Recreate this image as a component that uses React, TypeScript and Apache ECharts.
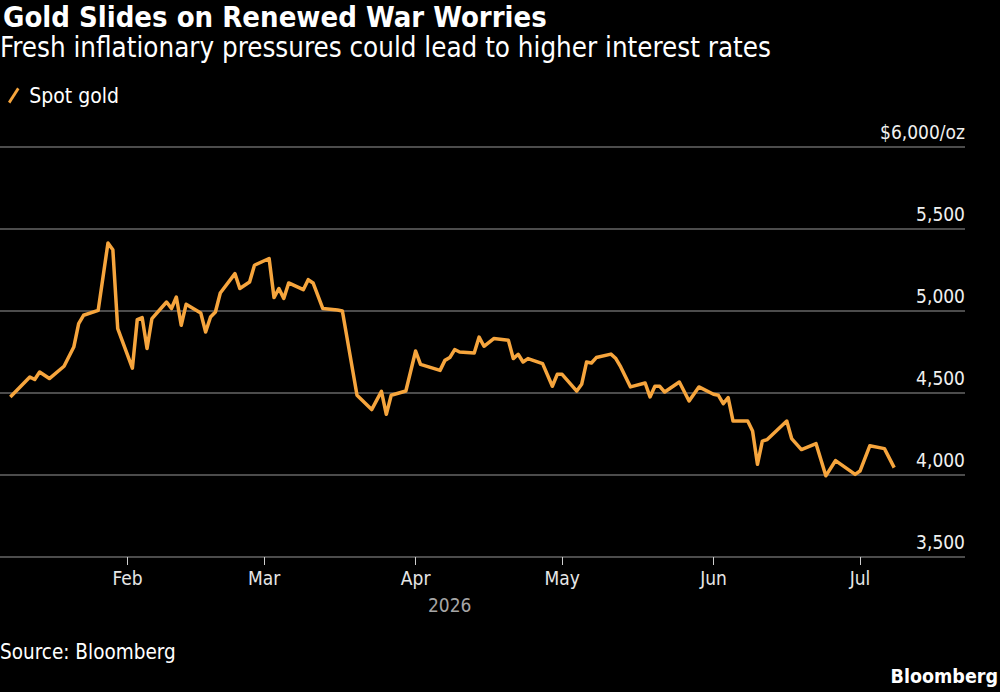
import React, { useEffect, useRef } from "react";
import * as echarts from "echarts";

const dates: string[] = [
  "2026-01-08","2026-01-12","2026-01-13","2026-01-14","2026-01-16","2026-01-19","2026-01-21","2026-01-22","2026-01-23","2026-01-26",
  "2026-01-28","2026-01-29","2026-01-30","2026-02-02","2026-02-03","2026-02-04","2026-02-05","2026-02-06","2026-02-09","2026-02-10",
  "2026-02-11","2026-02-12","2026-02-13","2026-02-16","2026-02-17","2026-02-18","2026-02-19","2026-02-20","2026-02-23","2026-02-24",
  "2026-02-26","2026-02-27","2026-03-02","2026-03-03","2026-03-04","2026-03-05","2026-03-06","2026-03-09","2026-03-10","2026-03-11",
  "2026-03-13","2026-03-16","2026-03-17","2026-03-20","2026-03-23","2026-03-25","2026-03-26","2026-03-27","2026-03-30","2026-04-01",
  "2026-04-02","2026-04-06","2026-04-07","2026-04-08","2026-04-09","2026-04-10","2026-04-13","2026-04-14","2026-04-15","2026-04-17",
  "2026-04-20","2026-04-21","2026-04-22","2026-04-23","2026-04-24","2026-04-27","2026-04-29","2026-04-30","2026-05-01","2026-05-04",
  "2026-05-05","2026-05-06","2026-05-07","2026-05-08","2026-05-11","2026-05-12","2026-05-13","2026-05-15","2026-05-18","2026-05-19",
  "2026-05-20","2026-05-21","2026-05-22","2026-05-25","2026-05-27","2026-05-29","2026-06-01","2026-06-02","2026-06-03","2026-06-04",
  "2026-06-05","2026-06-08","2026-06-09","2026-06-10","2026-06-11","2026-06-12","2026-06-16","2026-06-17","2026-06-19","2026-06-22",
  "2026-06-24","2026-06-26","2026-06-30","2026-07-01","2026-07-03","2026-07-06","2026-07-08"
];

const spotGold: number[] = [
  4476, 4598, 4582, 4628, 4588, 4663, 4780, 4923, 4974, 5004,
  5415, 5374, 4893, 4652, 4948, 4960, 4771, 4954, 5055, 5015,
  5085, 4913, 5041, 4988, 4872, 4963, 4994, 5110, 5228, 5137,
  5177, 5279, 5320, 5082, 5137, 5076, 5171, 5130, 5191, 5171,
  5015, 5006, 5000, 4486, 4399, 4510, 4370, 4486, 4512, 4756,
  4675, 4638, 4699, 4716, 4765, 4750, 4744, 4841, 4785, 4832,
  4821, 4710, 4736, 4689, 4710, 4679, 4541, 4614, 4614, 4512,
  4553, 4689, 4683, 4716, 4737, 4710, 4659, 4537, 4561, 4476,
  4541, 4541, 4506, 4567, 4451, 4537, 4492, 4486, 4435, 4472,
  4329, 4329, 4268, 4065, 4207, 4216, 4329, 4222, 4155, 4191,
  3995, 4088, 4004, 4024, 4178, 4161, 4045
];

const yTicks: number[] = [3500, 4000, 4500, 5000, 5500, 6000];
const monthNames: string[] = ["Jan", "Feb", "Mar", "Apr", "May", "Jun", "Jul", "Aug", "Sep", "Oct", "Nov", "Dec"];

const FONT = "'DejaVu Sans Condensed', 'Liberation Sans Narrow', 'DejaVu Sans', sans-serif";
const LINE = "#f6a53d";

function toTs(s: string): number {
  const [y, m, d] = s.split("-").map(Number);
  return new Date(y, m - 1, d).getTime();
}

const DAY = 86400000;
const jan1 = new Date(2026, 0, 1).getTime();

export default function App() {
  const ref = useRef<HTMLDivElement>(null);
  useEffect(() => {
    if (!ref.current) return;
    const chart = echarts.init(ref.current, undefined, { renderer: "svg" });
    const data = dates.map((d, i) => [toTs(d), spotGold[i]]);
    chart.setOption({
      animation: false,
      backgroundColor: "#000",
      textStyle: { fontFamily: FONT },
      grid: { left: 0, right: 35, top: 147, bottom: 135, containLabel: false },
      legend: {
        show: true,
        left: 3,
        top: 80,
        icon: "path://M8,0 L10,1.5 L2,14 L0,12.5 Z",
        itemWidth: 13,
        itemHeight: 16,
        itemGap: 10,
        textStyle: { color: "#fff", fontSize: 21, fontFamily: FONT, padding: [0, 0, 0, 4] },
        data: [{ name: "Spot gold", itemStyle: { color: LINE } }],
      },
      xAxis: {
        type: "time",
        min: jan1 + 4.89 * DAY,
        max: jan1 + 202.5 * DAY,
        minInterval: 28 * DAY,
        maxInterval: 31 * DAY,
        splitNumber: 6,
        axisLine: { show: false },
        axisTick: { show: true, length: 8, lineStyle: { color: "#cfcfcf", width: 1 } },
        splitLine: { show: false },
        axisLabel: {
          color: "#e6e6e6",
          fontSize: 19,
          fontFamily: FONT,
          margin: 11,
          hideOverlap: false,
          formatter: (v: number) => monthNames[new Date(v).getMonth()],
        },
      },
      yAxis: {
        type: "value",
        position: "right",
        min: yTicks[0],
        max: yTicks[yTicks.length - 1],
        interval: 500,
        axisLine: { show: false },
        axisTick: { show: false },
        splitLine: { show: true, lineStyle: { color: "#666", width: 1.5 } },
        axisLabel: {
          inside: true,
          margin: 0,
          color: "#f0f0f0",
          fontSize: 19,
          fontFamily: FONT,
          verticalAlign: "bottom",
          padding: [0, 0, 6, 0],
          showMaxLabel: true,
          showMinLabel: true,
          formatter: (v: number) =>
            v === yTicks[yTicks.length - 1] ? "$" + v.toLocaleString("en-US") + "/oz" : v.toLocaleString("en-US"),
        },
      },
      series: [
        {
          name: "Spot gold",
          type: "line",
          data,
          showSymbol: false,
          symbol: "none",
          lineStyle: { color: LINE, width: 3.5, join: "round" },
          itemStyle: { color: LINE },
        },
      ],
      graphic: [
        {
          type: "text",
          left: 3,
          top: 2,
          style: { text: "Gold Slides on Renewed War Worries", fill: "#fff", font: `bold 29px ${FONT}` },
        },
        {
          type: "text",
          left: 0,
          top: 33,
          style: { text: "Fresh inflationary pressures could lead to higher interest rates", fill: "#fff", font: `27.5px ${FONT}` },
        },
        {
          type: "text",
          left: 428,
          top: 595,
          style: { text: "2026", fill: "#a6a6a6", font: `19px ${FONT}` },
        },
        {
          type: "text",
          left: 0,
          top: 641,
          style: { text: "Source: Bloomberg", fill: "#fff", font: `20.5px ${FONT}` },
        },
        {
          type: "text",
          right: 2,
          top: 666,
          style: { text: "Bloomberg", fill: "#fff", font: `bold 19.5px ${FONT}` },
        },
      ],
    });
    return () => chart.dispose();
  }, []);
  return (
    <div
      ref={ref}
      style={{ position: "fixed", left: 0, top: 0, width: 1000, height: 692, background: "#000" }}
    />
  );
}
